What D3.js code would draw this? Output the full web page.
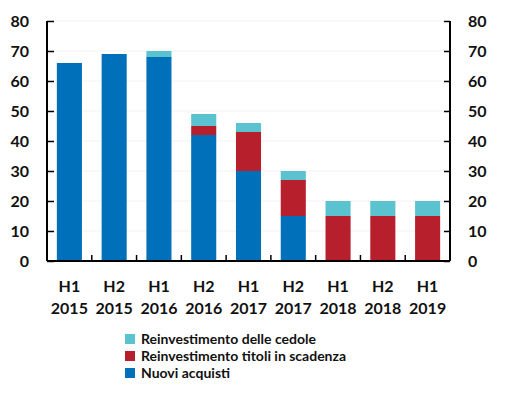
<!DOCTYPE html>
<meta charset="utf-8">
<script src="https://d3js.org/d3.v7.min.js"></script>
<style>
  body { margin: 0; background: #fff; }
  text { font-family: Lato, "Open Sans", sans-serif; font-weight: bold; fill: #111; }
</style>
<div id="chart"></div>
<script>
// periods and stacked values (bn euro)
const periods = ["H1 2015", "H2 2015", "H1 2016", "H2 2016", "H1 2017", "H2 2017", "H1 2018", "H2 2018", "H1 2019"];
const nuoviAcquisti = [66, 69, 68, 42, 30, 15, 0, 0, 0];
const reinvTitoli = [0, 0, 0, 3, 13, 12, 15, 15, 15];
const reinvCedole = [0, 0, 2, 4, 3, 3, 5, 5, 5];
const yTicks = [0, 10, 20, 30, 40, 50, 60, 70, 80];

const seriesNames = ["Nuovi acquisti", "Reinvestimento titoli in scadenza", "Reinvestimento delle cedole"];
const seriesColors = ["#0070BA", "#B81F2D", "#5BC2CF"];

const W = 515, H = 394;
const mLeft = 47, mRight = 450, mTop = 21, mBottom = 261;

const svg = d3.select("#chart").append("svg").attr("width", W).attr("height", H);

const rows = periods.map((p, i) => ({
  period: p,
  "Nuovi acquisti": nuoviAcquisti[i],
  "Reinvestimento titoli in scadenza": reinvTitoli[i],
  "Reinvestimento delle cedole": reinvCedole[i]
}));
const stacked = d3.stack().keys(seriesNames)(rows);

const x = d3.scaleBand().domain(periods).range([mLeft, mRight]).paddingInner(0.44).paddingOuter(0.22);
const y = d3.scaleLinear().domain([0, 80]).range([mBottom, mTop]);
const color = d3.scaleOrdinal().domain(seriesNames).range(seriesColors);

// faint gridlines
svg.append("g").selectAll("line").data(yTicks.slice(1)).enter().append("line")
  .attr("x1", mLeft).attr("x2", mRight)
  .attr("y1", d => y(d)).attr("y2", d => y(d))
  .attr("stroke", "#f2f2f2").attr("stroke-width", 1);

// bars
svg.append("g").selectAll("g").data(stacked).enter().append("g")
  .attr("fill", d => color(d.key))
  .selectAll("rect").data(d => d).enter().append("rect")
  .attr("x", d => x(d.data.period))
  .attr("width", x.bandwidth())
  .attr("y", d => y(d[1]))
  .attr("height", d => y(d[0]) - y(d[1]));

// left axis
const yl = svg.append("g").attr("transform", `translate(${mLeft},0)`)
  .call(d3.axisRight(y).tickValues(yTicks).tickSize(7).tickFormat(""));
yl.select(".domain").attr("stroke", "#000").attr("stroke-width", 2).attr("d", `M0,${mTop}V${mBottom}`);
yl.selectAll(".tick line").attr("stroke", "#000").attr("stroke-width", 1.5);
svg.append("g").selectAll("text").data(yTicks).enter().append("text")
  .attr("x", 29).attr("y", d => y(d)).attr("dy", "0.36em")
  .attr("text-anchor", "end").attr("font-size", 16).text(d => d);

// right axis
const yr = svg.append("g").attr("transform", `translate(${mRight},0)`)
  .call(d3.axisLeft(y).tickValues(yTicks).tickSize(6).tickFormat(""));
yr.select(".domain").attr("stroke", "#000").attr("stroke-width", 2).attr("d", `M0,${mTop}V${mBottom}`);
yr.selectAll(".tick line").attr("stroke", "#000").attr("stroke-width", 1.5);
svg.append("g").selectAll("text").data(yTicks).enter().append("text")
  .attr("x", 468).attr("y", d => y(d)).attr("dy", "0.36em")
  .attr("text-anchor", "start").attr("font-size", 16).text(d => d);

// x axis line and ticks between categories
svg.append("line").attr("x1", mLeft).attr("x2", mRight).attr("y1", mBottom).attr("y2", mBottom)
  .attr("stroke", "#000").attr("stroke-width", 2);
const step = x.step();
svg.append("g").selectAll("line").data(periods.slice(1)).enter().append("line")
  .attr("x1", d => x(d) - (step - x.bandwidth()) / 2)
  .attr("x2", d => x(d) - (step - x.bandwidth()) / 2)
  .attr("y1", mBottom).attr("y2", mBottom - 6)
  .attr("stroke", "#000").attr("stroke-width", 1.5);

// category labels on two lines
const xl = svg.append("g").selectAll("text").data(periods).enter().append("text")
  .attr("text-anchor", "middle").attr("font-size", 16);
xl.append("tspan").attr("x", d => x(d) + x.bandwidth() / 2).attr("y", 291.5).text(d => d.split(" ")[0]);
xl.append("tspan").attr("x", d => x(d) + x.bandwidth() / 2).attr("y", 313.5).text(d => d.split(" ")[1]);

// legend
const legendOrder = ["Reinvestimento delle cedole", "Reinvestimento titoli in scadenza", "Nuovi acquisti"];
const lg = svg.append("g").selectAll("g").data(legendOrder).enter().append("g")
  .attr("transform", (d, i) => `translate(125,${334 + i * 17})`);
lg.append("rect").attr("width", 10).attr("height", 10).attr("fill", d => color(d));
lg.append("text").attr("x", 16).attr("y", 4.5).attr("dy", "0.36em").attr("font-size", 14).text(d => d);
</script>
